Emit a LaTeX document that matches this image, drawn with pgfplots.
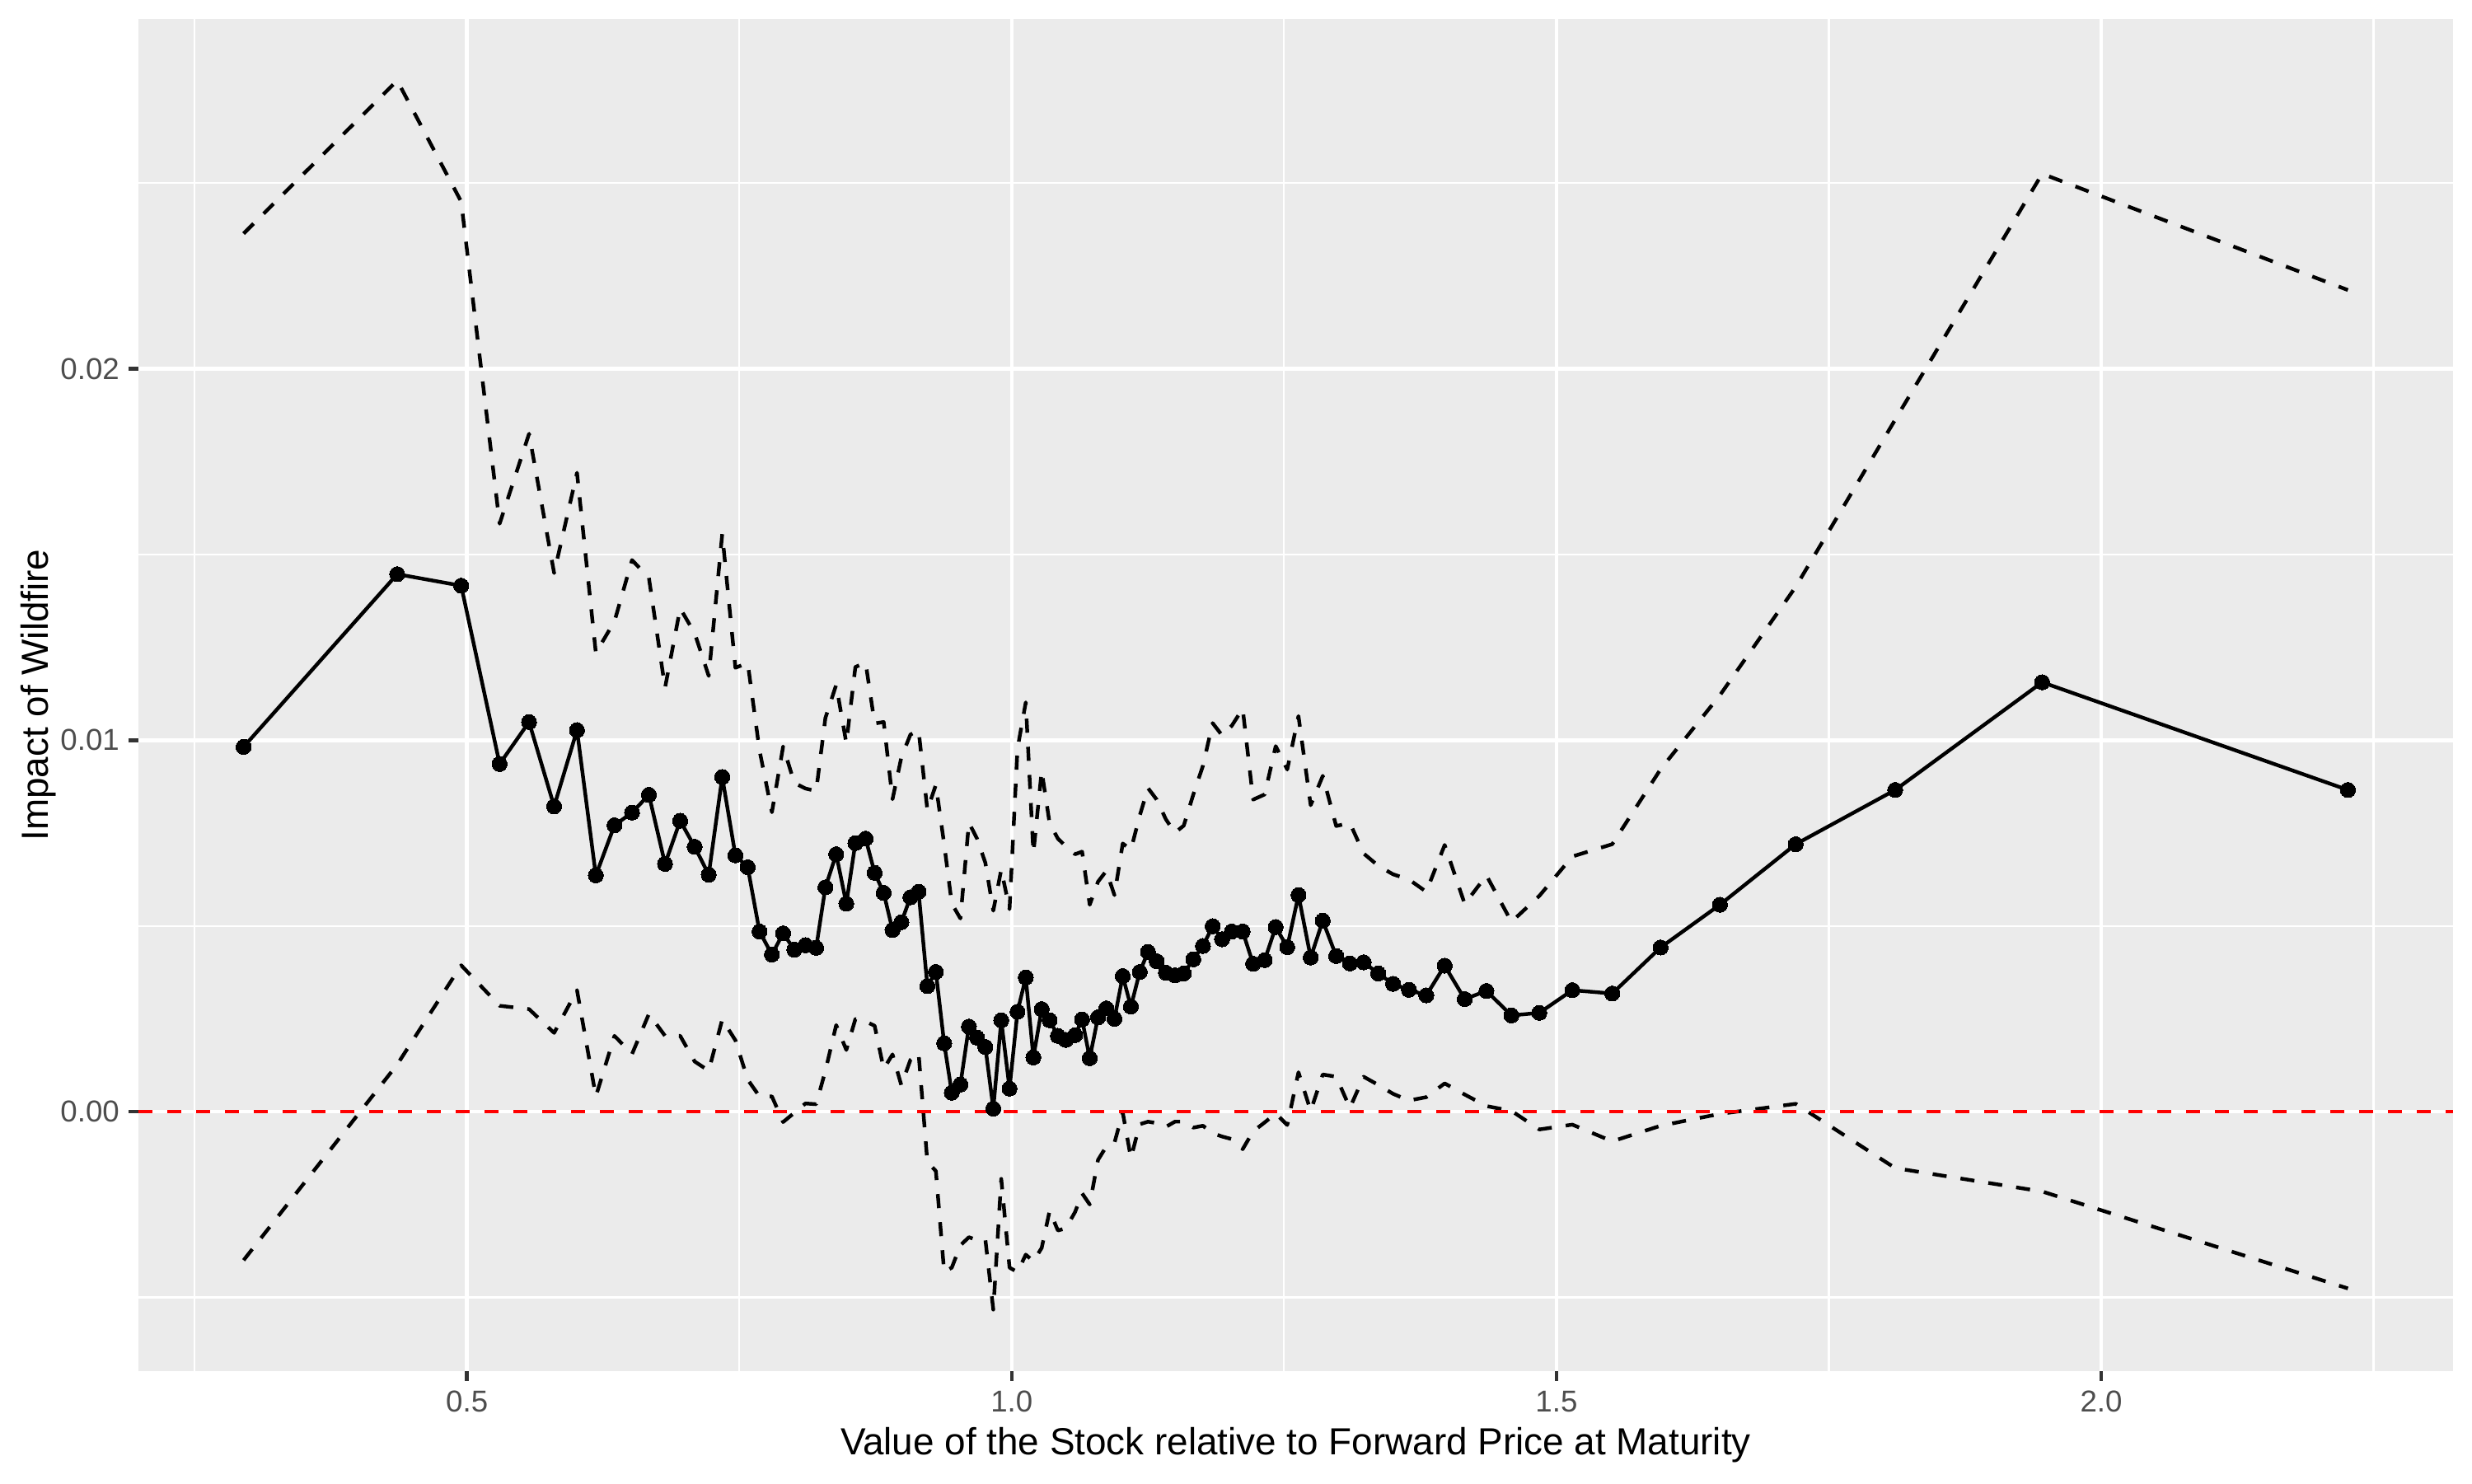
\documentclass[border=0pt]{standalone}
\usepackage{pgfplots}
\pgfplotsset{compat=1.18}
\usepackage{pgfplotstable}
\usepackage{fontspec}
\setmainfont{Liberation Sans}
\definecolor{ggbg}{HTML}{EBEBEB}
\definecolor{gg30}{HTML}{4D4D4D}
\definecolor{gg20}{HTML}{333333}

\pgfplotstableread{
x mid up lo
0.2950 0.00982 0.02364 -0.00400
0.4360 0.01447 0.02776 0.00127
0.4947 0.01416 0.02450 0.00394
0.5300 0.00936 0.01583 0.00285
0.5570 0.01049 0.01825 0.00276
0.5800 0.00822 0.01450 0.00212
0.6010 0.01027 0.01720 0.00327
0.6183 0.00636 0.01235 0.00041
0.6354 0.00771 0.01320 0.00204
0.6515 0.00805 0.01485 0.00155
0.6670 0.00853 0.01437 0.00263
0.6818 0.00667 0.01141 0.00204
0.6957 0.00783 0.01355 0.00204
0.7090 0.00713 0.01288 0.00135
0.7219 0.00638 0.01173 0.00110
0.7343 0.00901 0.01555 0.00248
0.7464 0.00690 0.01195 0.00192
0.7577 0.00658 0.01208 0.00086
0.7685 0.00485 0.00973 0.00041
0.7799 0.00423 0.00806 0.00041
0.7902 0.00480 0.00983 -0.00028
0.8005 0.00436 0.00885 -0.00003
0.8107 0.00448 0.00870 0.00022
0.8205 0.00441 0.00863 0.00020
0.8290 0.00604 0.01060 0.00110
0.8389 0.00693 0.01149 0.00233
0.8482 0.00560 0.00992 0.00166
0.8565 0.00723 0.01197 0.00249
0.8659 0.00735 0.01209 0.00243
0.8742 0.00643 0.01045 0.00231
0.8825 0.00589 0.01049 0.00115
0.8906 0.00489 0.00841 0.00154
0.8987 0.00510 0.00954 0.00071
0.9070 0.00577 0.01015 0.00139
0.9145 0.00592 0.01027 0.00158
0.9226 0.00338 0.00812 -0.00136
0.9304 0.00376 0.00880 -0.00160
0.9380 0.00184 0.00720 -0.00432
0.9450 0.00051 0.00560 -0.00420
0.9529 0.00073 0.00520 -0.00360
0.9607 0.00229 0.00778 -0.00338
0.9682 0.00199 0.00735 -0.00346
0.9758 0.00174 0.00670 -0.00344
0.9831 0.00008 0.00541 -0.00533
0.9904 0.00246 0.00652 -0.00181
0.9980 0.00062 0.00545 -0.00420
1.0053 0.00269 0.00977 -0.00432
1.0129 0.00361 0.01102 -0.00385
1.0199 0.00146 0.00696 -0.00403
1.0275 0.00276 0.00918 -0.00367
1.0348 0.00246 0.00776 -0.00267
1.0424 0.00204 0.00735 -0.00320
1.0497 0.00193 0.00714 -0.00314
1.0582 0.00206 0.00693 -0.00270
1.0646 0.00248 0.00700 -0.00220
1.0716 0.00144 0.00557 -0.00250
1.0792 0.00254 0.00619 -0.00130
1.0868 0.00278 0.00648 -0.00094
1.0943 0.00250 0.00583 -0.00084
1.1019 0.00365 0.00722 -0.00002
1.1094 0.00283 0.00705 -0.00125
1.1175 0.00376 0.00797 -0.00034
1.1251 0.00430 0.00871 -0.00027
1.1331 0.00405 0.00840 -0.00031
1.1415 0.00374 0.00787 -0.00041
1.1498 0.00367 0.00751 -0.00027
1.1579 0.00372 0.00770 -0.00027
1.1667 0.00410 0.00854 -0.00043
1.1755 0.00446 0.00931 -0.00038
1.1844 0.00499 0.01046 -0.00058
1.1931 0.00464 0.01013 -0.00067
1.2020 0.00485 0.01039 -0.00074
1.2120 0.00485 0.01085 -0.00101
1.2216 0.00398 0.00840 -0.00053
1.2322 0.00408 0.00854 -0.00029
1.2423 0.00497 0.00984 -0.00005
1.2529 0.00443 0.00921 -0.00036
1.2632 0.00583 0.01065 0.00106
1.2744 0.00415 0.00825 0.00002
1.2855 0.00514 0.00904 0.00100
1.2978 0.00419 0.00769 0.00094
1.3104 0.00399 0.00777 0.00010
1.3230 0.00402 0.00695 0.00094
1.3364 0.00372 0.00662 0.00072
1.3500 0.00344 0.00639 0.00048
1.3646 0.00328 0.00625 0.00030
1.3805 0.00313 0.00592 0.00039
1.3974 0.00393 0.00718 0.00076
1.4158 0.00303 0.00559 0.00046
1.4357 0.00325 0.00636 0.00015
1.4587 0.00259 0.00511 0.00002
1.4843 0.00266 0.00581 -0.00048
1.5146 0.00327 0.00687 -0.00035
1.5512 0.00318 0.00720 -0.00080
1.5956 0.00442 0.00922 -0.00038
1.6500 0.00557 0.01121 -0.00006
1.7196 0.00720 0.01413 0.00021
1.8109 0.00866 0.01863 -0.00152
1.9458 0.01156 0.02525 -0.00215
2.2264 0.00866 0.02212 -0.00476
}\data

\begin{document}
\begin{tikzpicture}
\path[use as bounding box] (0,0) rectangle (720pt,432pt);
\begin{axis}[
  at={(40.3pt,32.6pt)}, anchor=south west,
  width=674.2pt, height=393.9pt, scale only axis,
  xmin=0.1984, xmax=2.3230, ymin=-0.00699, ymax=0.02942,
  axis background/.style={fill=ggbg},
  axis line style={draw=none},
  xtick={0.5,1,1.5,2}, xticklabels={0.5,1.0,1.5,2.0},
  ytick={0,0.01,0.02}, yticklabels={0.00,0.01,0.02},
  minor xtick={0.25,0.75,1.25,1.75,2.25},
  minor ytick={-0.005,0.005,0.015,0.025},
  scaled x ticks=false, scaled y ticks=false,
  xtick pos=bottom, ytick pos=left,
  tick align=outside,
  major tick length=2.75pt, minor tick length=0pt,
  major tick style={color=gg20, line width=1.07pt},
  grid=both,
  major grid style={white, line width=1.07pt},
  minor grid style={white, line width=0.53pt},
  ticklabel style={font=\fontsize{8.8}{10}\selectfont, text=gg30},
  xticklabel style={anchor=north, inner sep=0pt, yshift=-2.75pt},
  yticklabel style={anchor=east, inner sep=0pt, xshift=-2.6pt},
  xlabel={Value of the Stock relative to Forward Price at Maturity},
  ylabel={Impact of Wildfire},
  label style={font=\fontsize{11}{13}\selectfont, text=black},
  xlabel style={at={(axis description cs:0.5,0)}, anchor=base, yshift=-24.4pt, inner sep=0pt},
  ylabel style={at={([xshift=-26.3pt]axis description cs:0,0.5)}, anchor=base, inner sep=0pt},
  clip=true,
]
\addplot[black, line width=1.07pt, dash pattern=on 4.1pt off 4.1pt, line join=round] table[x=x, y=up] {\data};
\addplot[black, line width=1.07pt, dash pattern=on 4.1pt off 4.1pt, line join=round] table[x=x, y=lo] {\data};
\addplot[black, line width=1.07pt, line join=round, mark=*, mark size=2.2pt, mark options={solid, fill=black, draw=black, line width=0pt}] table[x=x, y=mid] {\data};
\addplot[red, line width=1.07pt, dash pattern=on 4.2pt off 4.2pt] coordinates {(0.1984,0) (2.3230,0)};
\end{axis}
\end{tikzpicture}
\end{document}
